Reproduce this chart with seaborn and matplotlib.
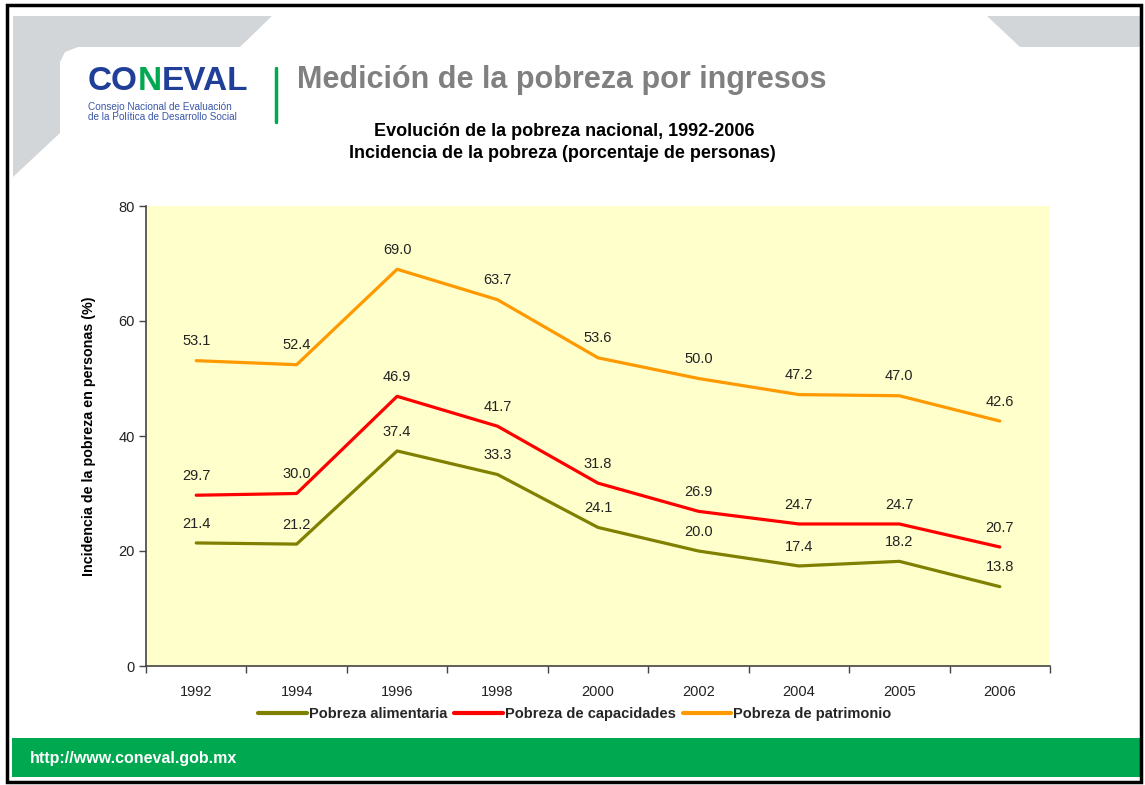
import matplotlib
matplotlib.use("Agg")
import matplotlib.pyplot as plt
from matplotlib.patches import Polygon, Rectangle
from matplotlib.lines import Line2D
import seaborn as sns
import pandas as pd

years = ["1992", "1994", "1996", "1998", "2000", "2002", "2004", "2005", "2006"]
alimentaria = [21.4, 21.2, 37.4, 33.3, 24.1, 20.0, 17.4, 18.2, 13.8]
capacidades = [29.7, 30.0, 46.9, 41.7, 31.8, 26.9, 24.7, 24.7, 20.7]
patrimonio = [53.1, 52.4, 69.0, 63.7, 53.6, 50.0, 47.2, 47.0, 42.6]
series_names = ["Pobreza alimentaria", "Pobreza de capacidades", "Pobreza de patrimonio"]
colors = ["#808000", "#FF0000", "#FF9900"]
y_ticks = [0, 20, 40, 60, 80]

sns.set_theme(style="white")
plt.rcParams['font.family'] = ['Liberation Sans', 'DejaVu Sans']

W, H = 1145, 785
fig = plt.figure(figsize=(W / 100, H / 100), dpi=100)

def fx(x):
    return x / W

def fy(y):
    return 1 - y / H

# slide decorations
grey = "#D3D6D9"
tl = [(13, 16), (272, 16), (240, 47), (78, 47), (65, 52), (60, 62), (60, 133), (13, 177)]
fig.patches.append(Polygon([(fx(a), fy(b)) for a, b in tl], closed=True,
                           transform=fig.transFigure, facecolor=grey, edgecolor="none", zorder=0))
tr = [(987, 16), (1142, 16), (1142, 47), (1020, 47)]
fig.patches.append(Polygon([(fx(a), fy(b)) for a, b in tr], closed=True,
                           transform=fig.transFigure, facecolor=grey, edgecolor="none", zorder=0))
fig.patches.append(Rectangle((fx(12), fy(777)), fx(1140) - fx(12), fy(738) - fy(777),
                             transform=fig.transFigure, facecolor="#00A850", edgecolor="none", zorder=1))
fig.patches.append(Rectangle((fx(7), fy(782)), fx(1141) - fx(7), fy(5) - fy(782),
                             transform=fig.transFigure, facecolor="none", edgecolor="black",
                             linewidth=2.5, zorder=3))
fig.add_artist(Line2D([fx(276), fx(276)], [fy(68), fy(122)], transform=fig.transFigure,
                      color="#00A850", linewidth=2.5))

# logo text: CO (blue) N (green) EVAL (blue)
renderer = fig.canvas.get_renderer()
x_cursor = 88
for part, col in (("CO", "#1F3F99"), ("N", "#00A850"), ("EVAL", "#1F3F99")):
    t = fig.text(fx(x_cursor), fy(82), part, color=col, fontsize=24, fontweight="heavy",
                 ha="left", va="center")
    bb = t.get_window_extent(renderer=renderer)
    x_cursor += bb.width
fig.text(fx(88), fy(112), "Consejo Nacional de Evaluación\nde la Política de Desarrollo Social",
         color="#3A56A8", fontsize=7.2, ha="left", va="center", linespacing=1.0)
fig.text(fx(297), fy(80), "Medición de la pobreza por ingresos", color="#808080",
         fontsize=22, fontweight="bold", ha="left", va="center")
fig.text(fx(564), fy(131), "Evolución de la pobreza nacional, 1992-2006", color="black",
         fontsize=13, fontweight="bold", ha="center", va="center")
fig.text(fx(562), fy(153), "Incidencia de la pobreza (porcentaje de personas)", color="black",
         fontsize=13, fontweight="bold", ha="center", va="center")
fig.text(fx(30), fy(759), "http://www.coneval.gob.mx", color="white",
         fontsize=11.5, fontweight="bold", ha="left", va="center", zorder=5)

# chart
ax = fig.add_axes([fx(146), fy(666), fx(1050) - fx(146), fy(206) - fy(666)])
ax.set_facecolor("#FFFFCC")

df = pd.DataFrame({
    "Año": years * 3,
    "Valor": alimentaria + capacidades + patrimonio,
    "Serie": [series_names[0]] * len(years) + [series_names[1]] * len(years) + [series_names[2]] * len(years),
})
sns.lineplot(data=df, x="Año", y="Valor", hue="Serie", palette=colors, linewidth=2.3,
             sort=False, ax=ax, legend=False)

for vals in (alimentaria, capacidades, patrimonio):
    for i, v in enumerate(vals):
        ax.annotate(f"{v:.1f}", (i, v), xytext=(0, 14), textcoords="offset points",
                    ha="center", va="center", fontsize=10.5, color="#222222")

ax.set_xlim(-0.5, len(years) - 0.5)
ax.set_ylim(0, 80)
ax.set_yticks(y_ticks)
ax.set_xticks(range(len(years)))
ax.set_xticklabels(years)
ax.set_xticks([i - 0.5 for i in range(len(years) + 1)], minor=True)
ax.tick_params(axis="x", which="major", length=0, pad=14, labelsize=10.5, colors="#222222")
ax.tick_params(axis="x", which="minor", length=5, width=1, color="#444444", direction="out", bottom=True)
ax.tick_params(axis="y", length=5, width=1, color="#444444", direction="out", left=True,
               labelsize=10.5, labelcolor="#222222", pad=3)
for s in ("top", "right"):
    ax.spines[s].set_visible(False)
for s in ("left", "bottom"):
    ax.spines[s].set_color("#444444")
    ax.spines[s].set_linewidth(1.2)
ax.set_xlabel("")
ax.set_ylabel("Incidencia de la pobreza en personas (%)", fontsize=10.3, fontweight="bold",
              color="black", labelpad=16)
ax.grid(False)

handles = [Line2D([0], [0], color=c, linewidth=3) for c in colors]
fig.legend(handles, series_names, loc="center", bbox_to_anchor=(fx(575), fy(714)), ncol=3,
           frameon=False, handlelength=3.3, handletextpad=0.15, columnspacing=0.5,
           prop={"weight": "bold", "size": 10.5})

fig.savefig("out.png", dpi=100)
